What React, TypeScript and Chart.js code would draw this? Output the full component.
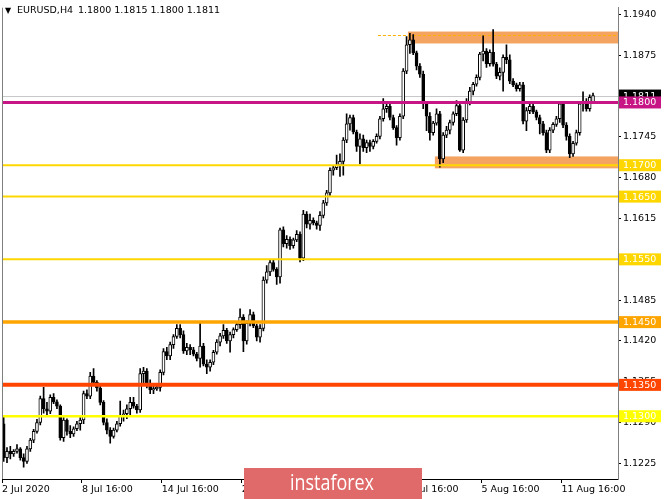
import React, { useEffect, useRef } from "react";
import { Chart, registerables } from "chart.js";
Chart.register(...registerables);

// ---- data (EURUSD H4 candles) ----
const opens = [
  1.1288,1.1234,1.1244,1.1240,1.1244,1.1248,1.1234,1.1228,1.1248,1.1262,
  1.1276,1.1290,1.1328,1.1312,1.1308,1.1330,1.1323,1.1316,1.1266,1.1294,
  1.1276,1.1272,1.1280,1.1288,1.1294,1.1336,1.1332,1.1364,1.1354,1.1345,
  1.1322,1.1290,1.1278,1.1268,1.1278,1.1288,1.1300,1.1304,1.1312,1.1322,
  1.1316,1.1310,1.1368,1.1372,1.1350,1.1342,1.1344,1.1346,1.1370,1.1403,
  1.1396,1.1414,1.1427,1.1440,1.1430,1.1404,1.1410,1.1406,1.1399,1.1392,
  1.1412,1.1383,1.1378,1.1386,1.1402,1.1418,1.1428,1.1437,1.1420,1.1430,
  1.1438,1.1446,1.1458,1.1420,1.1448,1.1462,1.1444,1.1426,1.1440,1.1517,
  1.1530,1.1545,1.1534,1.1522,1.1597,1.1575,1.1582,1.1572,1.1581,1.1590,
  1.1552,1.1622,1.1606,1.1612,1.1608,1.1604,1.1620,1.1640,1.1656,1.1692,
  1.1696,1.1700,1.1706,1.1740,1.1766,1.1776,1.1753,1.1730,1.1742,1.1728,
  1.1736,1.1730,1.1738,1.1746,1.1774,1.1790,1.1794,1.1776,1.1760,1.1744,
  1.1778,1.1850,1.1892,1.1900,1.1879,1.1858,1.1845,1.1798,1.1778,1.1752,
  1.1767,1.1782,1.1710,1.1748,1.1756,1.1768,1.1782,1.1795,1.1724,1.1772,
  1.1800,1.1818,1.1829,1.1840,1.1877,1.1882,1.1862,1.1880,1.1861,1.1842,
  1.1848,1.1872,1.1868,1.1834,1.1828,1.1822,1.1828,1.1770,1.1787,1.1794,
  1.1785,1.1776,1.1766,1.1752,1.1724,1.1756,1.1765,1.1774,1.1798,1.1764,
  1.1746,1.1718,1.1735,1.1752,1.1798,1.1802,1.1790,1.1800,
];
const highs = [
  1.1300,1.1250,1.1252,1.1247,1.1255,1.1250,1.1240,1.1252,1.1265,1.1279,
  1.1295,1.1332,1.1346,1.1322,1.1334,1.1336,1.1326,1.1318,1.1298,1.1296,
  1.1285,1.1283,1.1292,1.1298,1.1340,1.1342,1.1370,1.1376,1.1357,1.1350,
  1.1325,1.1296,1.1282,1.1281,1.1292,1.1324,1.1310,1.1318,1.1330,1.1330,
  1.1319,1.1376,1.1378,1.1376,1.1358,1.1348,1.1352,1.1374,1.1408,1.1410,
  1.1418,1.1430,1.1446,1.1446,1.1436,1.1416,1.1414,1.1410,1.1402,1.1448,
  1.1416,1.1390,1.1390,1.1405,1.1422,1.1432,1.1446,1.1440,1.1434,1.1441,
  1.1450,1.1471,1.1462,1.1452,1.1470,1.1466,1.1447,1.1446,1.1522,1.1540,
  1.1550,1.1550,1.1537,1.1600,1.1602,1.1588,1.1586,1.1584,1.1596,1.1594,
  1.1628,1.1626,1.1622,1.1616,1.1611,1.1626,1.1644,1.1660,1.1696,1.1699,
  1.1716,1.1718,1.1744,1.1782,1.1780,1.1780,1.1756,1.1750,1.1748,1.1740,
  1.1740,1.1741,1.1750,1.1778,1.1806,1.1800,1.1798,1.1780,1.1763,1.1782,
  1.1854,1.1905,1.1910,1.1908,1.1882,1.1862,1.1850,1.1802,1.1784,1.1770,
  1.1790,1.1786,1.1752,1.1762,1.1772,1.1785,1.1803,1.1798,1.1776,1.1806,
  1.1824,1.1832,1.1844,1.1880,1.1906,1.1886,1.1884,1.1916,1.1864,1.1855,
  1.1876,1.1892,1.1876,1.1838,1.1831,1.1832,1.1832,1.1792,1.1800,1.1802,
  1.1788,1.1780,1.1770,1.1756,1.1760,1.1768,1.1778,1.1802,1.1800,1.1768,
  1.1750,1.1738,1.1756,1.1802,1.1817,1.1806,1.1812,1.1815,
];
const lows = [
  1.1228,1.1226,1.1232,1.1236,1.1241,1.1230,1.1219,1.1225,1.1244,1.1258,
  1.1273,1.1286,1.1305,1.1300,1.1304,1.1320,1.1312,1.1262,1.1260,1.1270,
  1.1266,1.1268,1.1277,1.1278,1.1288,1.1328,1.1328,1.1351,1.1340,1.1318,
  1.1286,1.1272,1.1257,1.1265,1.1275,1.1284,1.1292,1.1296,1.1300,1.1313,
  1.1305,1.1306,1.1352,1.1345,1.1336,1.1336,1.1341,1.1340,1.1366,1.1390,
  1.1390,1.1408,1.1424,1.1425,1.1400,1.1398,1.1398,1.1396,1.1388,1.1378,
  1.1380,1.1368,1.1372,1.1382,1.1399,1.1412,1.1424,1.1416,1.1402,1.1425,
  1.1435,1.1440,1.1403,1.1415,1.1444,1.1441,1.1420,1.1418,1.1436,1.1512,
  1.1524,1.1531,1.1510,1.1512,1.1570,1.1568,1.1566,1.1568,1.1578,1.1546,
  1.1548,1.1600,1.1598,1.1605,1.1598,1.1596,1.1616,1.1636,1.1652,1.1684,
  1.1693,1.1682,1.1684,1.1736,1.1756,1.1750,1.1722,1.1702,1.1722,1.1720,
  1.1722,1.1726,1.1735,1.1742,1.1770,1.1784,1.1772,1.1757,1.1732,1.1740,
  1.1774,1.1846,1.1878,1.1876,1.1852,1.1840,1.1790,1.1755,1.1740,1.1748,
  1.1764,1.1697,1.1704,1.1744,1.1750,1.1764,1.1779,1.1722,1.1720,1.1768,
  1.1796,1.1812,1.1826,1.1836,1.1866,1.1856,1.1858,1.1858,1.1838,1.1836,
  1.1818,1.1862,1.1830,1.1825,1.1818,1.1818,1.1766,1.1755,1.1782,1.1782,
  1.1772,1.1750,1.1748,1.1720,1.1720,1.1752,1.1762,1.1768,1.1760,1.1740,
  1.1712,1.1714,1.1732,1.1748,1.1786,1.1786,1.1786,1.1800,
];
const closes = [
  1.1234,1.1244,1.1240,1.1244,1.1248,1.1234,1.1228,1.1248,1.1262,1.1276,
  1.1290,1.1328,1.1312,1.1308,1.1330,1.1323,1.1316,1.1266,1.1294,1.1276,
  1.1272,1.1280,1.1288,1.1294,1.1336,1.1332,1.1364,1.1354,1.1345,1.1322,
  1.1290,1.1278,1.1268,1.1278,1.1288,1.1300,1.1304,1.1312,1.1322,1.1316,
  1.1310,1.1368,1.1372,1.1350,1.1342,1.1344,1.1346,1.1370,1.1403,1.1396,
  1.1414,1.1427,1.1440,1.1430,1.1404,1.1410,1.1406,1.1399,1.1392,1.1412,
  1.1383,1.1378,1.1386,1.1402,1.1418,1.1428,1.1437,1.1420,1.1430,1.1438,
  1.1446,1.1458,1.1420,1.1448,1.1462,1.1444,1.1426,1.1440,1.1517,1.1530,
  1.1545,1.1534,1.1522,1.1597,1.1575,1.1582,1.1572,1.1581,1.1590,1.1552,
  1.1622,1.1606,1.1612,1.1608,1.1604,1.1620,1.1640,1.1656,1.1692,1.1696,
  1.1700,1.1706,1.1740,1.1766,1.1776,1.1753,1.1730,1.1742,1.1728,1.1736,
  1.1730,1.1738,1.1746,1.1774,1.1790,1.1794,1.1776,1.1760,1.1744,1.1778,
  1.1850,1.1892,1.1900,1.1879,1.1858,1.1845,1.1798,1.1778,1.1752,1.1767,
  1.1782,1.1710,1.1748,1.1756,1.1768,1.1782,1.1795,1.1724,1.1772,1.1800,
  1.1818,1.1829,1.1840,1.1877,1.1882,1.1862,1.1880,1.1861,1.1842,1.1848,
  1.1872,1.1868,1.1834,1.1828,1.1822,1.1828,1.1770,1.1787,1.1794,1.1785,
  1.1776,1.1766,1.1752,1.1724,1.1756,1.1765,1.1774,1.1798,1.1764,1.1746,
  1.1718,1.1735,1.1752,1.1798,1.1802,1.1790,1.1808,1.1811,
];

const SLOT_COUNT = 185; // bar slots across the plot (incl. empty right margin)
const X_TICK_STEP = 24; // bars between time labels
const xTickLabels = ["2 Jul 2020", "8 Jul 16:00", "14 Jul 16:00", "20 Jul 16:00", "24 Jul 16:00", "30 Jul 16:00", "5 Aug 16:00", "11 Aug 16:00"];
const yTicks = [1.1225, 1.1290, 1.1355, 1.1420, 1.1485, 1.1550, 1.1615, 1.1680, 1.1745, 1.1810, 1.1875, 1.1940];
const levelValues = [1.1800, 1.1700, 1.1650, 1.1550, 1.1450, 1.1350, 1.1300];
const currentPrice = 1.1811;
const upperZone = [1.1894, 1.1913];
const lowerZone = [1.1695, 1.1714];
const upperZoneStart = 121.4;
const lowerZoneStart = 129.5;
const dashedLevel = 1.1908;
const dashedStart = 112.4;
const headerSymbol = "EURUSD,H4";
const headerValues = "1.1800 1.1815 1.1800 1.1811";
const logoText = "instaforex";

const FONT = "'DejaVu Sans', sans-serif";

const levelStyles = [
  { color: "#C71585", width: 3 },
  { color: "#FFD700", width: 2 },
  { color: "#FFD700", width: 2 },
  { color: "#FFD700", width: 2 },
  { color: "#FFA500", width: 3.5 },
  { color: "#FF4500", width: 4 },
  { color: "#FFFF00", width: 2.5 },
];

const overlay = {
  id: "overlay",
  beforeDatasetsDraw(chart: any) {
    const { ctx, chartArea, scales } = chart;
    const { right } = chartArea;
    const x = scales.x, y = scales.y;
    ctx.save();
    ctx.fillStyle = "#F4A460";
    [[upperZone, upperZoneStart], [lowerZone, lowerZoneStart]].forEach(([z, s]: any) => {
      const x0 = x.getPixelForValue(s);
      const yTop = y.getPixelForValue(z[1]);
      const yBot = y.getPixelForValue(z[0]);
      ctx.fillRect(x0, yTop, right - x0, yBot - yTop);
    });
    const cy = Math.round(y.getPixelForValue(currentPrice)) + 0.5;
    ctx.strokeStyle = "#C8C8C8";
    ctx.lineWidth = 1;
    ctx.beginPath();
    ctx.moveTo(chartArea.left, cy);
    ctx.lineTo(right, cy);
    ctx.stroke();
    const dy = Math.round(y.getPixelForValue(dashedLevel)) + 0.5;
    ctx.strokeStyle = "#FFB000";
    ctx.setLineDash([3, 2]);
    ctx.beginPath();
    ctx.moveTo(x.getPixelForValue(dashedStart), dy);
    ctx.lineTo(right, dy);
    ctx.stroke();
    ctx.restore();
  },
  afterDatasetsDraw(chart: any) {
    const { ctx, chartArea, scales } = chart;
    const y = scales.y;
    ctx.save();
    levelValues.forEach((v, i) => {
      const st = levelStyles[i];
      const py = y.getPixelForValue(v);
      ctx.strokeStyle = st.color;
      ctx.lineWidth = st.width;
      ctx.beginPath();
      ctx.moveTo(chartArea.left, py);
      ctx.lineTo(chartArea.right, py);
      ctx.stroke();
    });
    ctx.strokeStyle = "#808080";
    ctx.lineWidth = 1;
    ctx.beginPath();
    ctx.moveTo(chartArea.left + 0.5, chartArea.top);
    ctx.lineTo(chartArea.left + 0.5, chartArea.bottom);
    ctx.stroke();
    ctx.restore();
  },
  afterDraw(chart: any) {
    const { ctx, chartArea, scales } = chart;
    const y = scales.y;
    ctx.save();
    ctx.font = `9.5px ${FONT}`;
    ctx.textBaseline = "middle";
    const box = (v: number, bg: string) => {
      const py = y.getPixelForValue(v);
      ctx.fillStyle = bg;
      ctx.fillRect(chartArea.right + 1, py - 6, 42, 12);
      ctx.fillStyle = "#FFFFFF";
      ctx.fillText(v.toFixed(4), chartArea.right + 5, py + 0.5);
    };
    box(currentPrice, "#000000");
    for (let i = levelValues.length - 1; i >= 0; i--) box(levelValues[i], levelStyles[i].color);
    ctx.fillStyle = "#000";
    ctx.font = `8px ${FONT}`;
    ctx.fillText("\u25BC", 5, 11);
    ctx.font = `9.5px ${FONT}`;
    ctx.fillText(headerSymbol, 17, 11);
    ctx.fillText(headerValues, 78, 11);
    ctx.fillStyle = "#E06A6A";
    ctx.fillRect(244, 468, 178, 31);
    ctx.fillStyle = "#FFFFFF";
    ctx.font = `22px 'Open Sans', sans-serif`;
    const w = ctx.measureText(logoText).width;
    ctx.save();
    ctx.translate(290, 484);
    ctx.scale(84 / w, 1);
    ctx.fillText(logoText, 0, 0);
    ctx.restore();
    ctx.restore();
  },
};

export default function App() {
  const ref = useRef<HTMLCanvasElement | null>(null);
  useEffect(() => {
    document.body.style.margin = "0";
    const canvas = ref.current!;
    const idx = opens.map((_, i) => i);
    const chart = new Chart(canvas, {
      type: "bar",
      data: {
        datasets: [
          {
            data: idx.map((i) => ({ x: i, y: [lows[i], highs[i]] })) as any,
            backgroundColor: "#000",
            borderWidth: 0,
            barThickness: 1,
            grouped: false,
            order: 2,
          } as any,
          {
            data: idx.map((i) => ({ x: i, y: [opens[i], closes[i]] })) as any,
            backgroundColor: idx.map((i) => (closes[i] >= opens[i] ? "#FFFFFF" : "#000000")),
            borderColor: "#000",
            borderWidth: 1,
            borderSkipped: false,
            barThickness: 3,
            minBarLength: 1,
            grouped: false,
            order: 1,
          } as any,
        ],
      },
      options: {
        responsive: false,
        animation: false,
        devicePixelRatio: 1,
        layout: { padding: { left: 2, top: 3, right: 0, bottom: 0 } },
        plugins: { legend: { display: false }, tooltip: { enabled: false } },
        scales: {
          x: {
            type: "linear",
            min: -0.5,
            max: SLOT_COUNT - 0.5,
            offset: false,
            afterBuildTicks: (s: any) => {
              s.ticks = xTickLabels.map((_, k) => ({ value: k * X_TICK_STEP - 0.5 }));
            },
            afterFit: (s: any) => {
              s.height = 20;
            },
            ticks: {
              autoSkip: false,
              maxRotation: 0,
              align: "start",
              padding: 1,
              color: "#000",
              font: { family: FONT, size: 9.5 },
              callback: (_v: any, i: number) => xTickLabels[i],
            },
            grid: { drawOnChartArea: false, tickLength: 4, color: "#000", offset: false },
            border: { color: "#000", width: 1 },
          },
          y: {
            type: "linear",
            position: "right",
            min: 1.12,
            max: 1.1951,
            beginAtZero: false,
            afterBuildTicks: (s: any) => {
              s.ticks = yTicks.map((v) => ({ value: v }));
            },
            afterFit: (s: any) => {
              s.width = 47;
            },
            ticks: {
              padding: 2,
              color: "#000",
              font: { family: FONT, size: 9.5 },
              callback: (v: any) => Number(v).toFixed(4),
            },
            grid: { drawOnChartArea: false, tickLength: 3, color: "#000" },
            border: { color: "#808080", width: 1 },
          },
        },
      } as any,
      plugins: [overlay],
    });
    return () => chart.destroy();
  }, []);
  return (
    <div style={{ width: 665, height: 499, background: "#fff" }}>
      <canvas ref={ref} width={665} height={499} style={{ display: "block" }} />
    </div>
  );
}
